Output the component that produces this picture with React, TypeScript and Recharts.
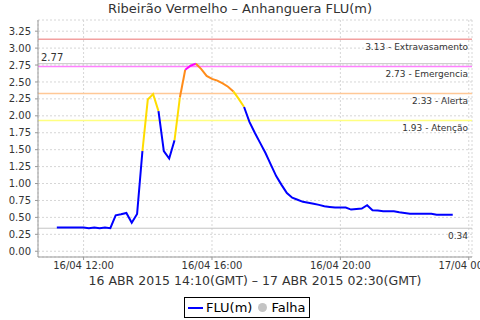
import React from 'react';
import {
  LineChart,
  Line,
  XAxis,
  YAxis,
  CartesianGrid,
  ReferenceLine,
} from 'recharts';

// FLU(m) readings every 10 minutes, 16/04 11:10 to 23:30 (local time)
const startHour = 11 + 10 / 60;
const stepHours = 10 / 60;
const levels = [
  0.35, 0.35, 0.35, 0.35, 0.35, 0.35, 0.34, 0.35, 0.34, 0.35,
  0.34, 0.53, 0.545, 0.565, 0.42, 0.55, 1.48, 2.24, 2.32, 2.07,
  1.48, 1.37, 1.64, 2.27, 2.68, 2.74, 2.77, 2.69, 2.59, 2.545,
  2.52, 2.48, 2.43, 2.36, 2.25, 2.13, 1.91, 1.75, 1.6, 1.45,
  1.28, 1.11, 0.98, 0.86, 0.79, 0.76, 0.73, 0.715, 0.7, 0.685,
  0.665, 0.655, 0.645, 0.645, 0.645, 0.615, 0.625, 0.63, 0.68, 0.605,
  0.6, 0.59, 0.59, 0.59, 0.575, 0.565, 0.555, 0.555, 0.555, 0.555,
  0.555, 0.54, 0.54, 0.54, 0.54,
];

const thresholdValues = [3.13, 2.73, 2.33, 1.93];
const thresholdNames = ['Extravasamento', 'Emergencia', 'Alerta', 'Atenção'];
const thresholdColors = ['#f2a0a0', '#ff80ff', '#ffc896', '#ffff80'];
// segment colour when the reading reaches each threshold (last = below all)
const segmentColors = ['#ff00ff', '#ff8c1a', '#ffdd00', '#0000ff'];

const yTicks = [0, 0.25, 0.5, 0.75, 1, 1.25, 1.5, 1.75, 2, 2.25, 2.5, 2.75, 3, 3.25];
const xTicks = [12, 16, 20, 24];
const xTickLabels = ['16/04 12:00', '16/04 16:00', '16/04 20:00', '17/04 00:00'];

const maxLevel = Math.max(...levels);
const minLevel = Math.min(...levels);

const colorFor = (v: number) => {
  // 3.13 (extravasamento) is above everything we draw, so start at 2.73
  for (let k = 1; k < thresholdValues.length; k++) {
    if (v >= thresholdValues[k]) return segmentColors[k - 1];
  }
  return segmentColors[3];
};

// split the line into runs of the same colour, each run is its own series
const runs: { color: string; from: number; to: number }[] = [];
for (let i = 1; i < levels.length; i++) {
  const c = colorFor(levels[i]);
  const last = runs[runs.length - 1];
  if (last && last.color === c) last.to = i;
  else runs.push({ color: c, from: i - 1, to: i });
}

const data = levels.map((v, i) => {
  const row: Record<string, number | null> = { t: startHour + i * stepHours };
  runs.forEach((r, k) => {
    row['r' + k] = i >= r.from && i <= r.to ? v : null;
  });
  return row;
});

const font = '"DejaVu Sans", sans-serif';
const textColor = '#333';

const App: React.FC = () => {
  return (
    <div style={{ position: 'relative', width: 480, height: 320, fontFamily: font, background: '#fff' }}>
      <style>{'body{margin:0}'}</style>
      <div
        style={{
          position: 'absolute',
          top: 1,
          left: 0,
          width: 480,
          textAlign: 'center',
          fontSize: 13,
          lineHeight: '15px',
          color: textColor,
        }}
      >
        Ribeirão Vermelho – Anhanguera FLU(m)
      </div>

      <LineChart width={480} height={320} data={data} margin={{ top: 20, right: 8, left: 0, bottom: 33 }}>
        <CartesianGrid strokeDasharray="2 2" stroke="#d6d6d6" />
        <XAxis
          dataKey="t"
          type="number"
          domain={[10.58, 24.1]}
          ticks={xTicks}
          interval={0}
          allowDataOverflow
          tickFormatter={(v: number) => xTickLabels[xTicks.indexOf(v)]}
          tick={{ fontSize: 10, fill: textColor, fontFamily: font }}
          tickSize={3}
          tickMargin={2}
          stroke="#999"
          height={30}
          label={{
            value: '16 ABR 2015 14:10(GMT) – 17 ABR 2015 02:30(GMT)',
            position: 'insideBottom',
            offset: 2,
            fontSize: 12.5,
            fill: textColor,
            fontFamily: font,
          }}
        />
        <XAxis xAxisId="top" orientation="top" type="number" domain={[0, 1]} height={0} tick={false} tickLine={false} stroke="#aaa" />
        <YAxis
          domain={[-0.085, 3.415]}
          ticks={yTicks}
          interval={0}
          allowDataOverflow
          tickFormatter={(v: number) => v.toFixed(2)}
          tick={{ fontSize: 10, fill: textColor, fontFamily: font }}
          tickSize={3}
          tickMargin={4}
          stroke="#999"
          width={38}
        />
        <YAxis yAxisId="right" orientation="right" domain={[0, 1]} width={0} tick={false} tickLine={false} stroke="#aaa" />

        {thresholdValues.map((v, k) => (
          <ReferenceLine
            key={v}
            y={v}
            stroke={thresholdColors[k]}
            strokeWidth={1.5}
            label={{
              value: `${v.toFixed(2)} - ${thresholdNames[k]}`,
              position: 'insideTopRight',
              offset: 4,
              fontSize: 9,
              fill: textColor,
              fontFamily: font,
            }}
          />
        ))}
        <ReferenceLine
          y={maxLevel}
          stroke="#c4c4c4"
          label={{ value: maxLevel.toFixed(2), position: 'insideBottomLeft', offset: 3, fontSize: 10, fill: textColor, fontFamily: font }}
        />
        <ReferenceLine
          y={minLevel}
          stroke="#c4c4c4"
          label={{ value: minLevel.toFixed(2), position: 'insideTopRight', offset: 4, fontSize: 9, fill: textColor, fontFamily: font }}
        />

        {runs.map((r, k) => (
          <Line
            key={'r' + k}
            dataKey={'r' + k}
            stroke={r.color}
            strokeWidth={2}
            dot={false}
            activeDot={false}
            connectNulls={false}
            isAnimationActive={false}
          />
        ))}
      </LineChart>

      <div
        style={{
          position: 'absolute',
          left: 184,
          top: 297,
          height: 19,
          border: '1px solid #000',
          display: 'flex',
          alignItems: 'center',
          padding: '0 4px 0 3px',
          fontSize: 13,
          color: '#000',
          whiteSpace: 'nowrap',
        }}
      >
        <span style={{ display: 'inline-block', width: 15, height: 2, background: '#0000ff', marginRight: 3 }} />
        <span>FLU(m)</span>
        <span
          style={{ display: 'inline-block', width: 9, height: 9, borderRadius: '50%', background: '#c4c4c4', margin: '0 4px 0 6px' }}
        />
        <span>Falha</span>
      </div>
    </div>
  );
};

export default App;
